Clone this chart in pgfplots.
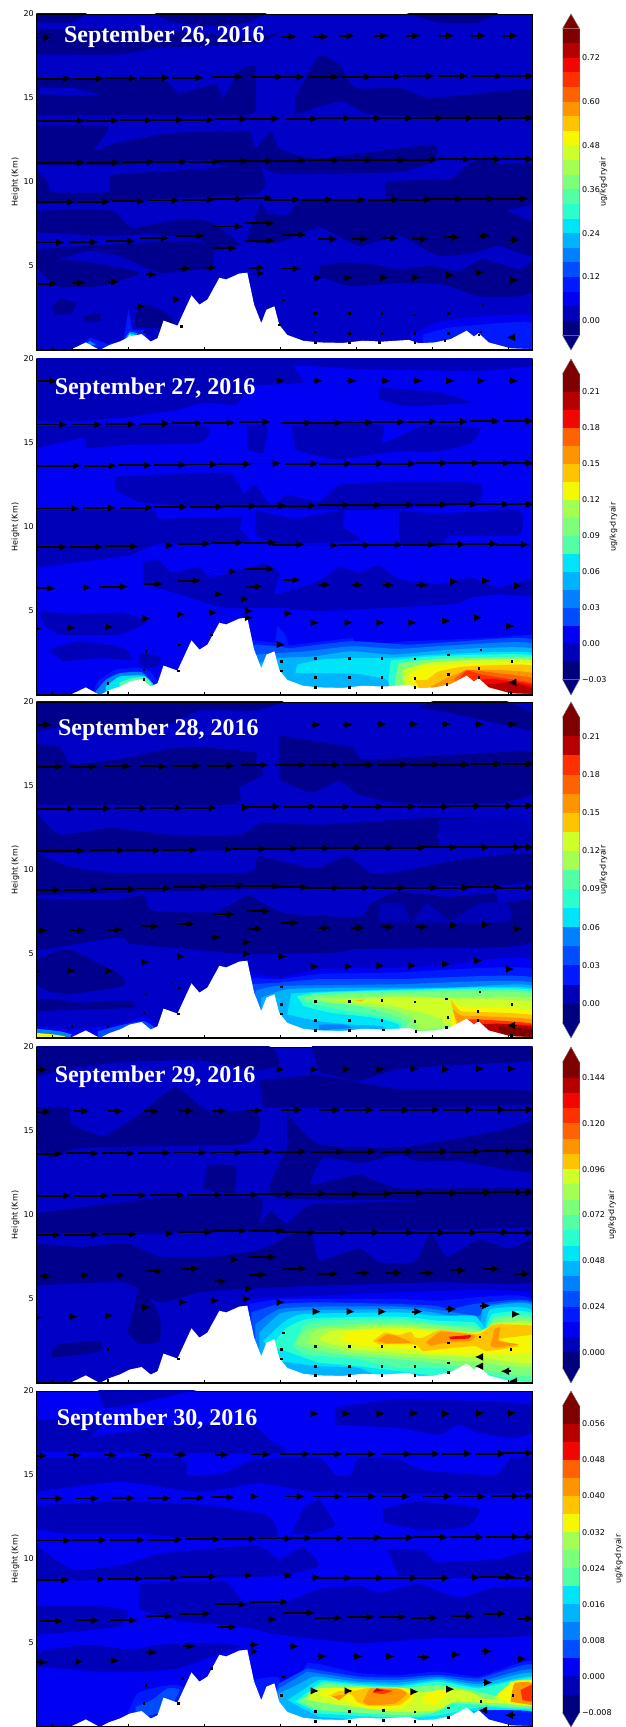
\documentclass[border=0pt]{standalone}
\usepackage{fontspec}
\setmainfont{DejaVu Sans}
\newfontfamily\ttl{Liberation Serif}
\usepackage{pgfplots}
\pgfplotsset{compat=1.18}
\usetikzlibrary{arrows.meta}
\definecolor{c0}{HTML}{00007F}\definecolor{c1}{HTML}{0000B9}\definecolor{c2}{HTML}{0000F3}
\definecolor{c3}{HTML}{0019FF}\definecolor{c4}{HTML}{004DFF}\definecolor{c5}{HTML}{0080FF}
\definecolor{c6}{HTML}{00B3FF}\definecolor{c7}{HTML}{00E4F7}\definecolor{c8}{HTML}{29FFCE}
\definecolor{c9}{HTML}{53FFA4}\definecolor{c10}{HTML}{7CFF79}\definecolor{c11}{HTML}{A4FF53}
\definecolor{c12}{HTML}{CEFF29}\definecolor{c13}{HTML}{F4F802}\definecolor{c14}{HTML}{FFC400}
\definecolor{c15}{HTML}{FF9400}\definecolor{c16}{HTML}{FF6200}\definecolor{c17}{HTML}{FF3000}
\definecolor{c18}{HTML}{F10700}\definecolor{c19}{HTML}{B60000}\definecolor{c20}{HTML}{7F0000}
\definecolor{da}{HTML}{00008C}\definecolor{db}{HTML}{0000C6}
% polygon, terrain, arrows
\newcommand{\F}[2]{\addplot[fill=#1,draw=none,forget plot,smooth,tension=.3] coordinates {#2} -- cycle;}
\newcommand{\G}[2]{\addplot[fill=#1,draw=none,forget plot] coordinates {#2} -- cycle;}
\newcommand{\Q}[2]{\addplot[black,line width=1.9pt,arrows={Latex[length=8.5pt,width=7.5pt]-},quiver={u=-#1,v=0},forget plot] coordinates {#2};}
\newcommand{\QL}[2]{\addplot[black,line width=1.6pt,arrows={-Latex[length=8.5pt,width=8pt]},quiver={u=-#1,v=0},forget plot] coordinates {#2};}
\newcommand{\LL}[1]{\addplot[black,line width=1.9pt,forget plot] coordinates {(91,#1)(140,#1)};}
\newcommand{\D}[1]{\addplot[only marks,mark=square*,mark size=0.8pt,black,forget plot] coordinates {#1};}
\newcommand{\T}{\G{white}{(91,0)(91,.03)(180,.05)(215,.45)(250,0)(275,.3)(300,.5)(325,.8)(355,.95)(378,.5)(395,.7)(410,1.75)(445,1.45)(480,3.25)(500,2.7)(520,3.0)(550,4.3)(567,4.2)(600,4.55)(620,4.6)(637,2.7)(655,1.6)(668,2.4)(688,2.6)(700,1.5)(720,.9)(760,.55)(800,.45)(860,.42)(910,.55)(960,.5)(1025,.6)(1050,.4)(1090,.45)(1130,.65)(1170,1.15)(1188,.8)(1200,1.0)(1225,.45)(1280,.1)(1335,.05)(1335,0)}}
\newcommand{\Title}[3]{\node[anchor=west,text=white,font=\ttl\fontsize{24}{26}\selectfont\bfseries,inner sep=0pt] at (axis cs:#1,#2) {#3};}
\pgfplotsset{
 panel/.style={scale only axis,width=496.2pt,height=336pt,anchor=south west,xmin=91,xmax=1335,ymin=0,ymax=20,
  ytick={5,10,15,20},xtick={130,180,322,512,702,893,1083,1275},xticklabels={},tick align=inside,xtick pos=bottom,ytick pos=left,
  major tick length=3pt,y tick style={draw=none},x tick style={black,line width=.6pt},axis on top,
  axis line style={black,line width=.6pt},
  /pgf/number format/assume math mode=true,
  tick label style={font=\fontsize{8}{9}\selectfont},yticklabel style={xshift=1pt},
  ylabel={Height (Km)},ylabel style={font=\fontsize{8}{9}\selectfont,at={(axis description cs:-0.027,0.5)}},
  after end axis/.code={\draw[black,line width=1.3pt] (rel axis cs:0,0) -- (rel axis cs:1,0);}},
 cbar/.style={scale only axis,width=17pt,height=336pt,anchor=south west,xmin=0,xmax=1,clip=false,scaled y ticks=false,
  xtick=\empty,ytick pos=right,yticklabel pos=right,y tick style={draw=none},axis line style={draw=none},
  /pgf/number format/assume math mode=true,
  tick label style={font=\fontsize{8}{9}\selectfont},yticklabel style={xshift=-1pt}}
}
\newcommand{\B}[3]{\addplot[fill=#3,draw=none,forget plot] coordinates {(0,#1)(1,#1)(1,#2)(0,#2)} -- cycle;}
\newcommand{\Tip}[3]{\addplot[fill=#3,draw=none,forget plot] coordinates {(0,#1)(.5,#2)(1,#1)} -- cycle;}
\newcommand{\Out}[4]{\addplot[draw=black!55,line width=.4pt,forget plot] coordinates {(0,#1)(.5,#2)(1,#1)(1,#3)(.5,#4)(0,#3)} -- cycle;}
\newcommand{\Unit}[1]{\node[rotate=90,font=\fontsize{8}{9}\selectfont] at (rel axis cs:#1,0.5) {ug/kg-dryair};}
\begin{document}
\begin{tikzpicture}
\useasboundingbox (0pt,0pt) rectangle (626pt,1727pt);
% ---------------------- Panel 1
\begin{axis}[panel,at={(36.3pt,1377pt)}]
\G{db}{(91,0)(1335,0)(1335,20)(91,20)}
\F{da}{(91,19.1)(300,19.1)(480,18.9)(640,18.6)(700,18.9)(640,18.2)(400,18.0)(300,17.6)(91,17.6)}
\F{da}{(380,20.2)(420,19.6)(520,19.3)(620,19.5)(680,20.2)}
\F{da}{(1000,20.2)(1100,19.5)(1200,19.5)(1260,20.2)}
\F{da}{(91,20.2)(220,20.2)(180,19.5)(91,19.5)}
\F{da}{(91,16.2)(400,16.1)(450,15.3)(540,15.8)(560,15.0)(600,16.6)(640,16.9)(640,14.8)(620,14.0)(250,14.0)(91,14.0)}
\F{db}{(100,15.6)(180,15.6)(250,15.2)(100,15.2)}
\F{da}{(740,15.0)(800,17.5)(850,17.0)(890,15.6)(1000,15.6)(1080,15.0)(1335,15.5)(1335,13.8)(950,14.0)(900,14.3)(860,14.8)(800,14.5)(740,14.0)}
\F{da}{(91,13.4)(270,13.3)(235,11.9)(290,12.3)(420,12.9)(560,13.0)(625,13)(640,12)(680,13)(700,12)(790,11.4)(1000,12)(1090,12.2)(1090,11.3)(1000,10.6)(700,10.5)(650,11)(600,10.7)(500,11.3)(300,11)(91,11)}
\F{da}{(91,10.7)(120,10.0)(130,9.4)(270,9.4)(280,10.4)(450,10.7)(600,10.9)(650,11)(640,9.3)(91,8.7)}
\F{da}{(650,8.9)(670,8.2)(720,8)(760,9)(960,8.9)(970,10)(1130,10.2)(1170,11)(1220,11.5)(1250,11.1)(1335,11.0)(1335,8.8)(1270,8.3)(1300,8)(1335,7.5)(1335,5.6)(1250,6.2)(1190,5.8)(1100,5.6)(1000,6.8)(900,6.2)(800,7.3)(700,6.4)(620,6.5)(650,8.5)}
\F{da}{(91,8.3)(280,8.3)(330,7.3)(460,7.8)(530,7.6)(600,6.3)(530,5.9)(500,6.6)(380,6.9)(270,6.8)(91,7.0)}
\F{da}{(91,6)(300,6.3)(480,6.5)(530,6)(530,4.9)(400,4.6)(300,5.6)(220,5.9)(120,5.2)(91,4.7)}
\F{da}{(91,5)(140,3.8)(250,3.8)(350,4.6)(200,5.3)(100,5.4)}
\F{da}{(800,5)(860,5.2)(930,5.1)(1000,4.8)(1080,5)(1150,4.7)(1210,5.4)(1300,4.8)(1335,5.2)(1335,3.5)(1300,3.2)(1200,3.2)(1110,3.9)(1000,4)(880,3.8)(800,4.4)}
\F{da}{(130,2.5)(150,3)(190,2.8)(180,2.2)(140,2.1)}
\F{da}{(210,2)(250,2.2)(250,1.7)(210,1.7)}
\F{da}{(340,2.2)(370,2.7)(430,2)(430,1.4)(380,1.3)(340,1.4)}
\F{c2}{(1030,.85)(1090,1.6)(1180,1.95)(1335,2.05)(1335,0)(1030,0)}
\F{c3}{(1060,.9)(1120,1.3)(1250,1.6)(1335,1.6)(1335,0)(1060,0)}
\G{c3}{(210,.35)(225,.75)(270,.35)(310,.6)(322,2.4)(332,1.2)(360,1.2)(375,.5)(210,0)}
\G{c5}{(215,.3)(240,.3)(225,.55)}
\G{c5}{(310,.55)(325,1.1)(345,1)(335,.6)}
\G{c7}{(315,.6)(325,1)(340,.9)(330,.6)}
\G{c13}{(318,.6)(325,.9)(332,.8)(326,.6)}
\T
\LL{16.15}\LL{13.65}\LL{11.15}\LL{8.8}
\Q{40}{(130,18.6)(745,18.65)(825,18.65)(890,18.7)(975,18.7)(1055,18.7)(1140,18.7)(1220,18.7)(1300,18.7)}
\Q{80}{(180,16.15)(262,16.15)(345,16.17)(428,16.2)(512,16.2)(610,16.25)(712,16.25)(765,16.25)(852,16.25)(935,16.25)(1010,16.27)(1090,16.3)(1175,16.3)(1262,16.3)(1340,16.3)}
\Q{84}{(215,13.65)(300,13.65)(385,13.67)(463,13.7)(540,13.7)(622,13.75)(702,13.77)(800,13.77)(882,13.8)(960,13.8)(1038,13.8)(1115,13.8)(1190,13.8)(1270,13.8)(1340,13.8)}
\Q{84}{(215,11.15)(302,11.15)(390,11.2)(472,11.2)(555,11.2)(625,11.25)(688,11.25)(770,11.27)(855,11.3)(938,11.3)(1020,11.3)(1100,11.33)(1182,11.35)(1260,11.35)(1340,11.35)}
\Q{84}{(190,8.8)(278,8.82)(365,8.85)(452,8.9)(540,8.95)(612,9.0)(685,9.05)(755,8.95)(838,8.95)(920,8.95)(1003,8.95)(1085,8.95)(1163,8.97)(1243,9)(1325,9)}
\Q{75}{(162,6.4)(248,6.43)(340,6.47)(425,6.65)(515,6.8)(610,7.35)(690,7.55)(690,6.5)}
\Q{60}{(770,6.85)(595,6.05)}\Q{50}{(848,6.6)(755,4.85)}\Q{42}{(925,6.6)(1000,6.65)(665,4.9)(665,4.55)(1075,6.6)(1155,6.7)}\Q{30}{(1230,6.8)(1305,6.55)(545,4.9)(480,4.85)(395,4.5)(300,4.05)}
\Q{50}{(145,3.95)}\Q{35}{(215,4.0)}\Q{25}{(810,4.3)}\Q{15}{(885,4.3)(975,4.3)(1055,4.3)(1140,4.45)(1300,4.15)}\Q{8}{(1215,4.6)(365,2.6)(455,3)}
\QL{20}{(1290,.75)}
\D{(710,3)(790,2.2)(875,2.2)(957,2.2)(1040,2.1)(1123,2.2)(1210,2.7)(790,1.1)(875,1.0)(957,1.0)(1040,1)(1123,1)(1205,1.1)(790,.45)(875,.45)(950,.45)(1040,.45)(1115,.6)(1200,.9)(1280,.8)(700,1.5)(455,1.4)(360,1.1)}
\Title{160}{18.65}{September 26, 2016}
\end{axis}
\begin{axis}[cbar,at={(562.5pt,1377pt)},ymin=-.08,ymax=.84,ytick={0,.12,.24,.36,.48,.6,.72},yticklabels={0.00,0.12,0.24,0.36,0.48,0.60,0.72}]
\Tip{-.04}{-.08}{c0}\Tip{.80}{.84}{c20}
\B{-.04}{0}{c0}\B{0}{.04}{c1}\B{.04}{.08}{c2}\B{.08}{.12}{c3}\B{.12}{.16}{c4}\B{.16}{.2}{c5}\B{.2}{.24}{c6}\B{.24}{.28}{c7}\B{.28}{.32}{c8}\B{.32}{.36}{c9}\B{.36}{.4}{c10}\B{.4}{.44}{c11}\B{.44}{.48}{c12}\B{.48}{.52}{c13}\B{.52}{.56}{c14}\B{.56}{.6}{c15}\B{.6}{.64}{c16}\B{.64}{.68}{c17}\B{.68}{.72}{c18}\B{.72}{.76}{c19}\B{.76}{.8}{c20}
\Out{-.04}{-.08}{.80}{.84}
\Unit{2.4}
\end{axis}
% ---------------------- Panel 2
\begin{axis}[panel,at={(36.3pt,1032pt)}]
\G{c2}{(91,0)(1335,0)(1335,20)(91,20)}
\F{c1}{(91,20.2)(91,16.4)(300,16.5)(450,17)(510,17.4)(590,17.3)(640,18.4)(760,18.6)(740,19.6)(900,19.4)(1200,19.3)(1335,19.6)(1335,20.2)}
\F{c1}{(950,18.3)(1100,18)(1180,17.4)(1020,17.2)(950,17.6)}
\F{c1}{(91,16)(510,16)(500,15)(320,14.9)(220,14.7)(210,15.3)(91,14.7)}
\F{c1}{(620,16)(670,16)(660,14.4)(620,14.6)}
\F{c1}{(730,16)(860,16.3)(960,16)(960,15)(1060,16)(1200,15.9)(1180,15)(1100,14.5)(1000,14.5)(930,14.3)(840,14)(740,14.6)}
\F{c1}{(290,13)(570,13.2)(610,12)(640,12.5)(680,11.3)(720,11.9)(800,11.5)(850,12.5)(1000,12.7)(1200,12.6)(1200,11.5)(1100,11.2)(900,11)(700,11.1)(500,11.2)(350,11.5)(290,12.2)}
\F{c1}{(91,11)(380,11)(400,10.5)(600,10.6)(600,9.9)(620,9.1)(400,9)(320,8.3)(91,7.6)}
\F{c1}{(640,11)(740,10.5)(860,11)(860,10)(900,9.2)(700,9)(640,9.5)}
\F{c1}{(1000,11)(1100,10.8)(1300,11)(1300,9.5)(1130,9.5)(1100,8.8)(1000,9.2)}
\F{c1}{(1030,10.2)(1060,9.2)(1100,9)(1000,9)}
\F{c1}{(360,7.9)(400,8)(430,7.3)(500,7.6)(530,7)(660,7.8)(700,7.2)(690,6)(800,6.8)(850,7.6)(900,7.3)(950,7.7)(1000,6.9)(1100,6.6)(1180,7)(1250,6.4)(1335,6.9)(1335,5.9)(1250,6)(1180,5.8)(1130,5.4)(800,5)(700,5.2)(560,5.2)(450,6)(360,6.6)}
\F{c1}{(100,5)(180,4.8)(300,4.9)(370,4.4)(300,3.6)(150,3.6)(110,4.2)}
\F{c1}{(120,2.7)(200,3.2)(310,2.8)(330,2.1)(250,2.2)(160,2)}
\F{c1}{(350,2.5)(400,2.3)(400,1.8)(370,1.6)(350,1.8)}
\F{c3}{(235,.2)(245,.8)(290,1.5)(350,1.6)(375,1.4)(395,.8)(395,0)(235,0)}
\F{c5}{(240,.2)(265,.9)(300,1.3)(355,1.35)(385,.6)(385,0)(240,0)}
\F{c7}{(265,.5)(300,1.1)(360,1.15)(385,.6)(385,0)(265,0)}
\F{c9}{(300,.75)(330,1.0)(365,1.05)(380,.5)(300,.5)}
\G{c3}{(625,3.3)(690,3.1)(695,4.1)(712,3.7)(725,2.95)(885,3.4)(892,2.9)(1020,3.2)(1130,3.3)(1230,3.4)(1335,3.6)(1335,0)(625,0)}
\F{c4}{(630,3.0)(700,2.9)(730,2.8)(880,3.2)(1020,3.0)(1130,3.15)(1335,3.3)(1335,0)(630,0)}
\F{c5}{(640,2.4)(700,2.5)(770,2.6)(880,2.9)(1000,2.75)(1130,2.95)(1335,3.05)(1335,0)(640,0)}
\F{c6}{(650,1.9)(700,2.2)(790,2.3)(880,2.6)(990,2.4)(1130,2.7)(1335,2.75)(1335,0)(650,0)}
\F{c7}{(745,1.8)(800,2.1)(880,2.2)(980,2.2)(1090,2.4)(1335,2.5)(1335,0)(1000,0)(970,.9)(900,1.25)(790,1.3)(740,1.3)}
\F{c8}{(980,2.05)(1090,2.3)(1335,2.35)(1335,0)(1000,0)(975,1)}
\F{c10}{(1000,1.9)(1090,2.15)(1200,2.2)(1335,2.2)(1335,0)(1015,0)(990,.8)}
\F{c12}{(1010,1.5)(1070,1.9)(1150,2.05)(1335,2.05)(1335,0)(1040,0)(1010,.8)}
\F{c13}{(1020,1.1)(1060,1.7)(1150,1.85)(1335,1.9)(1335,0)(1050,0)}
\F{c14}{(1040,.9)(1070,.9)(1100,1.4)(1170,1.7)(1335,1.75)(1335,0)(1060,0)}
\F{c15}{(1080,.5)(1120,1.0)(1170,1.45)(1230,1.5)(1335,1.3)(1335,0)(1090,0)}
\F{c16}{(1140,1)(1170,1.5)(1230,1.35)(1335,1)(1335,0)(1140,0)}
\F{c17}{(1150,.9)(1170,1.45)(1210,1.2)(1335,.7)(1335,0)(1150,0)}
\F{c18}{(1200,.9)(1240,.95)(1335,.6)(1335,0)(1200,0)}
\F{c19}{(1210,.6)(1280,.75)(1335,.4)(1335,0)(1210,0)}
\T
\LL{13.65}\LL{11.1}
\Q{50}{(145,18.7)}\Q{15}{(715,18.7)}\Q{25}{(810,18.7)(895,18.7)(980,18.7)(1060,18.7)(1300,18.7)}\Q{20}{(1140,18.7)(1218,18.7)}
\Q{80}{(170,16.1)(258,16.1)(342,16.12)(428,16.15)(510,16.17)(590,16.2)(680,16.25)(785,16.2)(860,16.2)(938,16.22)(1018,16.25)(1098,16.27)(1175,16.27)(1255,16.3)(1340,16.3)}
\Q{85}{(205,13.65)(295,13.65)(382,13.67)(470,13.7)(548,13.72)(632,13.75)(705,13.78)(800,13.77)(885,13.77)(965,13.77)(1045,13.77)(1125,13.8)(1205,13.8)(1282,13.8)(1340,13.8)}
\Q{85}{(200,11.1)(292,11.13)(385,11.15)(472,11.2)(562,11.2)(645,11.25)(720,11.27)(795,11.27)(880,11.3)(960,11.3)(1040,11.33)(1125,11.33)(1200,11.35)(1280,11.35)(1340,11.35)}
\Q{84}{(170,8.8)(260,8.82)(348,8.85)(437,8.9)(530,9.0)(612,9.07)(695,9.07)(765,8.95)(850,8.9)(932,8.92)(1012,8.95)(1095,8.95)(1170,8.97)(1250,9)(1328,8.95)}
\Q{75}{(140,6.35)(230,6.4)(322,6.45)(690,7.5)}\Q{60}{(505,6.8)(595,7.35)}\Q{50}{(410,6.6)}\Q{42}{(660,6.45)(755,6.85)}\Q{33}{(830,6.55)(912,6.55)(990,6.55)(1075,6.55)}
\Q{20}{(560,6.0)(465,4.8)(378,4.55)(735,4.85)(1230,6.8)(1310,6.5)}\Q{15}{(1150,6.75)(635,4.6)(545,4.9)(285,4.05)(190,4.0)(105,3.95)}\Q{10}{(635,5.0)(800,4.3)(885,4.3)(965,4.3)(715,3)(1210,4.6)}\Q{5}{(1045,4.3)(1130,4.4)(1290,4.1)(625,5.7)}
\QL{20}{(1293,.75)}
\D{(270,.7)(270,.15)(360,1.5)(360,.95)(365,2.6)(447,1.45)(450,3)(530,3.6)(705,2)(705,1.45)(790,2.2)(875,2.2)(957,2.2)(1040,2.15)(1123,2.4)(1205,2.7)(1283,2)(790,1.05)(875,1.05)(957,1.05)(1040,1)(1123,1.25)(1200,1.6)(790,.45)(875,.45)(957,.45)(1040,.45)(1120,.65)(1200,1.05)(1280,.15)}
\Title{137}{18.25}{September 27, 2016}
\end{axis}
\begin{axis}[cbar,at={(562.5pt,1032pt)},ymin=-.043,ymax=.2375,ytick={-.03,0,.03,.06,.09,.12,.15,.18,.21},yticklabels={−0.03,0.00,0.03,0.06,0.09,0.12,0.15,0.18,0.21}]
\Tip{-.03}{-.043}{c0}\Tip{.225}{.2375}{c20}
\B{-.03}{-.015}{c0}\B{-.015}{0}{c1}\B{0}{.015}{c2}\B{.015}{.03}{c4}\B{.03}{.045}{c5}\B{.045}{.06}{c6}\B{.06}{.075}{c7}\B{.075}{.09}{c9}\B{.09}{.105}{c10}\B{.105}{.12}{c11}\B{.12}{.135}{c13}\B{.135}{.15}{c14}\B{.15}{.165}{c15}\B{.165}{.18}{c16}\B{.18}{.195}{c18}\B{.195}{.21}{c19}\B{.21}{.225}{c20}
\Out{-.03}{-.043}{.225}{.2375}
\Unit{3}
\end{axis}
% ---------------------- Panel 3
\begin{axis}[panel,at={(36.3pt,689pt)}]
\G{db}{(91,0)(1335,0)(1335,20)(91,20)}
\F{da}{(91,20.2)(700,20.2)(640,19.5)(500,19.5)(400,18.4)(300,18.4)(150,18.5)(91,18.2)}
\F{da}{(91,17.5)(150,17.3)(180,16.3)(300,16.6)(420,17.2)(500,17.3)(640,17)(640,16.4)(660,15.7)(600,14.9)(580,13.9)(91,13.9)}
\F{da}{(700,18)(880,17.3)(910,16.6)(1100,16.8)(1335,17)(1335,14.6)(1250,14)(1000,14)(900,14.5)(850,15.3)(780,14.6)(700,15.4)}
\F{da}{(1050,19.7)(1200,19)(1335,18.3)(1335,19.3)(1250,20.2)(1100,20.2)}
\F{da}{(91,13.4)(150,12.1)(280,12.5)(430,12.1)(600,12.1)(660,12.8)(800,12.7)(1080,13.1)(1300,13.1)(1250,12.3)(1100,12.2)(1090,11.4)(800,11.3)(600,11.2)(400,11.1)(91,11)}
\F{c1}{(1100,13)(1300,13.1)(1335,12)(1335,11.6)(1150,11.5)(1100,12.2)}
\F{da}{(91,11)(170,10.2)(300,9.8)(600,9.8)(640,10.1)(650,10.8)(790,10.1)(870,10.8)(930,9.8)(1000,9.9)(1150,10.6)(1335,11)(1335,9.4)(1250,9.1)(700,8.9)(400,8.7)(91,8.5)}
\F{da}{(91,8.3)(280,8.2)(360,8.5)(380,7.6)(540,7.5)(620,8.5)(660,8)(720,7.4)(900,7.2)(930,8)(1000,8.7)(1120,8.4)(1240,8.6)(1250,8)(1335,8.2)(1335,5.8)(1250,5.4)(900,5.3)(850,5.1)(700,5)(600,5)(520,5.2)(330,5.6)(300,6)(91,5.2)}
\F{c1}{(950,8)(1010,8)(1030,6.9)(1070,8)(1130,7)(1200,8)(1270,8)(1270,6.9)(950,6.9)}
\F{da}{(91,4.7)(170,5.3)(250,4.4)(300,3.8)(310,3.1)(170,2.6)(120,2.8)(91,3.2)}
\F{da}{(91,2.3)(150,2.3)(190,2.1)(330,2.2)(330,1.8)(200,1.7)(91,1.6)}
\F{c2}{(91,.7)(160,.55)(240,.05)(91,0)}
\F{c5}{(91,.55)(150,.4)(190,.1)(91,0)}
\F{c13}{(91,.3)(130,.22)(165,.08)(91,0)}
\F{c2}{(180,.5)(300,.85)(360,1.3)(395,.8)(395,0)(180,0)}
\F{c4}{(245,.4)(300,.75)(360,1.0)(395,.5)(395,0)(245,0)}
\F{c2}{(625,3.9)(700,3.6)(800,4.1)(1000,4.2)(1130,4.35)(1210,4.65)(1335,4.6)(1335,0)(625,0)}
\F{c3}{(625,3.6)(700,3.5)(800,3.8)(1000,3.9)(1335,4.1)(1335,0)(625,0)}
\F{c4}{(630,3.2)(700,3.3)(800,3.5)(1000,3.5)(1335,3.6)(1335,0)(630,0)}
\F{c5}{(640,2.8)(700,3.1)(1000,3.2)(1335,3.3)(1335,0)(640,0)}
\F{c6}{(655,2.4)(720,2.9)(860,3.0)(1000,3.0)(1140,3.0)(1335,3.1)(1335,0)(655,0)}
\F{c5}{(800,.8)(860,.8)(880,.6)(800,.45)}
\F{c7}{(730,2.65)(800,2.75)(1000,2.9)(1335,2.95)(1335,0)(1000,0)(960,.7)(880,.8)(800,1.0)(720,1.4)}
\F{c8}{(745,2.5)(800,2.7)(1000,2.85)(1335,2.85)(1335,0)(1020,0)(1000,.8)(940,1.2)(830,1.5)(760,1.9)}
\F{c9}{(745,2.4)(800,2.65)(1000,2.8)(1335,2.75)(1335,0)(1030,0)(1005,.9)(950,1.3)(850,1.7)(770,2.1)}
\F{c10}{(760,2.4)(810,2.55)(1000,2.7)(1335,2.65)(1335,0)(1040,0)(1020,1.0)(980,1.4)(900,1.9)(790,2.2)}
\F{c11}{(800,2.35)(1000,2.5)(1130,2.4)(1335,2.4)(1335,.7)(1200,.9)(1120,.7)(1050,.5)(1040,1.1)(985,1.7)(880,2.0)(810,2.15)}
\F{c12}{(840,2.25)(1000,2.4)(1130,2.35)(1335,2.15)(1335,.8)(1120,.8)(1110,1.1)(1060,1.5)(985,1.9)}
\F{c13}{(1125,2.4)(1150,1.9)(1200,1.8)(1335,1.65)(1335,0)(1150,0)(1130,.8)(1140,1.6)}
\F{c14}{(1130,2.3)(1155,1.6)(1200,1.55)(1335,1.35)(1335,0)(1150,0)}
\F{c15}{(1135,1.7)(1160,1.3)(1205,1.3)(1335,1.1)(1335,0)(1160,0)}
\F{c17}{(1170,1.1)(1205,1.1)(1335,.85)(1335,0)(1180,0)}
\F{c18}{(1195,.85)(1335,.75)(1335,0)(1195,0)}
\F{c19}{(1205,.8)(1250,.85)(1335,.65)(1335,0)(1205,0)}
\F{c20}{(1250,.7)(1335,.5)(1335,0)(1250,.3)}
\G{c14}{(890,2.25)(915,2.3)(905,2.15)}
\T
\LL{13.65}\LL{11.15}
\Q{35}{(130,18.65)}\Q{24}{(805,18.65)(885,18.65)(970,18.67)(1050,18.67)(1132,18.67)(1215,18.67)(1298,18.67)}
\Q{70}{(160,16.15)(245,16.15)(330,16.17)(420,16.17)(505,16.2)(590,16.2)(675,16.25)}\Q{80}{(770,16.25)(855,16.25)(940,16.25)(1025,16.27)(1105,16.27)(1180,16.27)(1260,16.3)(1340,16.3)}
\Q{85}{(190,13.65)(280,13.65)(372,13.67)(460,13.7)(545,13.7)(628,13.72)(705,13.77)(795,13.77)(880,13.77)(965,13.77)(1045,13.77)(1130,13.77)(1210,13.8)(1290,13.82)(1340,13.82)}
\Q{90}{(215,11.15)(315,11.17)(405,11.17)(497,11.2)(585,11.22)(670,11.25)(750,11.27)(830,11.3)(910,11.32)(990,11.32)(1070,11.33)(1150,11.35)(1230,11.35)(1310,11.35)(1340,11.35)}
\Q{90}{(155,8.8)(250,8.82)(342,8.85)(430,8.9)(525,9.0)(615,9.07)(705,9.05)(775,8.97)(855,8.95)(930,8.95)(1020,8.95)(1100,8.95)(1180,8.95)(1260,8.97)(1340,8.95)}
\Q{25}{(120,6.4)(1150,6.7)(1230,6.75)(1310,6.5)(555,6.0)}\Q{40}{(215,6.4)(310,6.45)(660,6.5)}\Q{45}{(400,6.65)(490,6.8)(750,6.85)}\Q{55}{(590,7.35)}\Q{60}{(680,7.55)}\Q{35}{(830,6.55)(915,6.55)(990,6.6)(1075,6.6)}
\Q{15}{(630,5)(375,4.5)(285,4)(190,4)(105,3.95)}\Q{22}{(465,4.85)(720,4.85)}\Q{10}{(630,5.7)(800,4.25)(885,4.25)(965,4.3)(1130,4.4)(1210,4.6)}\Q{6}{(1045,4.3)(1290,4.1)}
\QL{25}{(1295,.75)}
\D{(705,3.05)(705,2)(705,1.45)(790,2.2)(875,2.2)(957,2.25)(1040,2.15)(1118,2.35)(1203,2.75)(1283,2)(790,1.05)(875,1.05)(957,1.05)(1040,1)(1122,1.25)(1198,1.6)(790,.45)(875,.45)(960,.5)(1042,.4)(1118,.65)(1198,1.05)(1282,.15)(180,.7)(270,.7)(360,1.5)(365,2.6)(447,1.45)(430,3.3)(450,3)}
\Title{145}{18.35}{September 28, 2016}
\end{axis}
\begin{axis}[cbar,at={(562.5pt,689pt)},ymin=-.027,ymax=.237,ytick={0,.03,.06,.09,.12,.15,.18,.21},yticklabels={0.00,0.03,0.06,0.09,0.12,0.15,0.18,0.21}]
\Tip{-.015}{-.027}{c0}\Tip{.225}{.237}{c20}
\B{-.015}{0}{c0}\B{0}{.015}{c1}\B{.015}{.03}{c3}\B{.03}{.045}{c4}\B{.045}{.06}{c5}\B{.06}{.075}{c7}\B{.075}{.09}{c8}\B{.09}{.105}{c9}\B{.105}{.12}{c11}\B{.12}{.135}{c12}\B{.135}{.15}{c14}\B{.15}{.165}{c15}\B{.165}{.18}{c16}\B{.18}{.195}{c17}\B{.195}{.21}{c19}\B{.21}{.225}{c20}
\Out{-.015}{-.027}{.225}{.237}
\Unit{2.4}
\end{axis}
% ---------------------- Panel 4
\begin{axis}[panel,at={(36.3pt,344pt)}]
\G{db}{(91,0)(1335,0)(1335,20)(91,20)}
\F{da}{(91,20.2)(650,20.2)(700,19)(640,18.6)(500,19.2)(300,19.1)(150,18.6)(91,18.2)}
\F{da}{(780,20.2)(1335,20.2)(1335,19.2)(1200,19)(1000,18.7)(900,18)(800,18.5)}
\F{da}{(91,16.4)(170,16.4)(180,15.4)(260,14.7)(350,16)(440,17.6)(520,16.2)(640,16.2)(650,15)(600,14.2)(200,14)(130,13.4)(91,14)}
\F{da}{(650,18)(800,18.3)(1000,17.5)(1335,17.4)(1335,16.6)(1000,16.4)(660,16.4)}
\F{da}{(720,16)(800,14.2)(1000,14)(1250,15)(1335,15.5)(1335,12.6)(1150,13.2)(1050,13.2)(1000,13.6)(900,13.1)(810,13.4)(780,11.8)(900,12.4)(1000,11.6)(1335,11.6)(1335,11)(700,11)(700,13)(720,14)}
\F{da}{(520,13)(590,12.9)(585,11.3)(510,11.6)}
\F{da}{(91,10.1)(400,11)(650,11)(650,9.5)(680,10.2)(720,9.5)(780,10.6)(1000,10.8)(1130,11)(1335,11)(1335,9.3)(600,9)(91,8.9)}
\F{da}{(91,8.3)(200,8.1)(320,8.3)(400,7.5)(530,7.5)(660,8)(730,8.8)(780,9)(800,7.3)(900,8)(950,7.2)(1040,7.2)(1080,8.9)(1120,7.5)(1200,8.5)(1280,8)(1335,8.5)(1335,6)(1100,6)(800,5.8)(600,5.6)(500,5.4)(400,4.8)(310,6)(91,5.8)}
\F{da}{(350,6)(400,4)(400,2.5)(350,2.3)(320,3)}
\F{da}{(130,2)(150,2.3)(250,2.5)(250,1.9)(130,1.5)}
\F{c2}{(620,5.0)(700,5.1)(800,5.2)(1000,5.4)(1335,5.3)(1335,0)(620,0)}
\F{c3}{(625,4.7)(700,5.0)(800,5)(1000,5)(1100,4.9)(1250,5.2)(1335,4.9)(1335,0)(625,0)}
\F{c4}{(630,4.2)(700,4.7)(800,4.8)(1000,4.7)(1090,4.6)(1130,4.4)(1190,4.7)(1335,4.8)(1335,0)(630,0)}
\F{c5}{(640,3.5)(700,4.4)(800,4.55)(1000,4.55)(1085,4.4)(1200,4.0)(1215,4.6)(1335,4.7)(1335,0)(640,0)}
\F{c6}{(650,3)(700,4.1)(750,4.3)(1000,4.4)(1085,4.2)(1200,3.6)(1215,4.5)(1335,4.6)(1335,0)(650,0)}
\F{c7}{(660,2.5)(710,3.6)(760,4.1)(1000,4.2)(1090,4.0)(1190,4.0)(1215,3.3)(1230,4.4)(1335,4.3)(1335,.0)(1000,0)(900,.9)(800,1.0)(700,1.3)}
\F{c8}{(680,2.2)(720,3.3)(780,3.85)(1000,3.95)(1100,3.7)(1190,3.6)(1215,3)(1235,4.1)(1335,4.1)(1335,0)(1000,.7)(900,1.0)(800,1.2)}
\F{c9}{(735,2.2)(760,3.4)(800,3.7)(1000,3.8)(1100,3.5)(1190,3.4)(1215,2.9)(1240,3.9)(1335,3.9)(1335,.2)(1210,.6)(1100,.9)(1000,.9)(900,1.4)(760,1.7)}
\F{c10}{(740,2.3)(780,3.3)(1000,3.6)(1190,3.2)(1215,2.8)(1240,3.75)(1335,3.8)(1335,.5)(1210,.8)(1050,1.3)(900,1.6)(790,1.9)}
\F{c11}{(770,2.4)(800,3.2)(1000,3.45)(1200,3)(1240,3.6)(1335,3.6)(1335,1)(1210,1.2)(1050,1.5)(880,1.8)}
\F{c12}{(800,2.55)(830,3.1)(1000,3.3)(1190,3)(1240,3.5)(1335,3.5)(1335,1.2)(1210,1.5)(1050,1.7)(880,2.0)}
\F{c13}{(850,2.6)(880,3.1)(1040,3.2)(1090,3)(1180,2.9)(1240,3.4)(1335,3.4)(1335,1.8)(1230,1.7)(1090,1.75)(1040,2.0)(900,2.2)}
\F{c14}{(935,2.5)(965,3.0)(1000,2.85)(1030,3.05)(1040,2.7)(1060,2.7)(1105,3.15)(1200,2.9)(1230,3.4)(1255,3.5)(1335,3.4)(1335,2.9)(1310,2.8)(1250,2.6)(1300,2.2)(1220,1.9)(1190,2.2)(1100,2.0)(1060,1.9)(1040,2.3)(950,2.3)}
\F{c15}{(945,2.5)(970,2.9)(1000,2.75)(1030,2.4)(970,2.35)}
\F{c15}{(1068,2.4)(1105,3.05)(1190,2.85)(1180,2.5)(1120,2.4)(1080,2.2)}
\F{c15}{(1230,2.2)(1240,3.2)(1255,3.3)(1250,2.5)(1300,2.3)(1240,2.1)}
\F{c18}{(1125,2.75)(1180,2.85)(1175,2.65)(1130,2.6)}
\T
\LL{11.15}
\Q{35}{(120,18.65)}\Q{15}{(715,18.67)(1050,18.7)(1295,18.7)}\Q{20}{(800,18.67)(1215,18.7)}\Q{5}{(880,18.67)(965,18.67)}\Q{12}{(1130,18.67)}
\Q{40}{(130,16.15)(225,16.17)(310,16.17)(400,16.17)(488,16.2)(570,16.2)(660,16.22)}\Q{55}{(760,16.25)(855,16.25)}\Q{80}{(940,16.25)(1030,16.25)(1105,16.27)(1190,16.27)(1270,16.27)(1340,16.27)}
\Q{85}{(160,13.65)(250,13.67)(340,13.67)(430,13.7)(520,13.72)(610,13.72)(685,13.77)(770,13.77)(865,13.77)(945,13.77)(1040,13.77)(1125,13.77)(1210,13.77)(1290,13.8)(1340,13.8)}
\Q{90}{(180,11.15)(275,11.15)(370,11.17)(465,11.17)(560,11.2)(650,11.2)(738,11.25)(820,11.27)(905,11.27)(985,11.27)(1065,11.3)(1150,11.3)(1235,11.33)(1315,11.35)(1340,11.35)}
\Q{90}{(155,8.8)(250,8.82)(345,8.85)(437,8.9)(535,8.98)(620,9.05)(715,9.05)(795,8.97)(875,8.95)(955,8.95)(1040,8.95)(1120,8.95)(1200,8.95)(1280,8.97)(1340,8.95)}
\Q{30}{(130,6.35)(570,6.05)}\Q{40}{(225,6.4)(315,6.4)(930,6.55)(1090,6.55)(1170,6.7)(1330,6.5)}\Q{45}{(410,6.65)(500,6.8)(670,6.45)(1010,6.55)(1255,6.8)}\Q{60}{(600,7.35)(770,6.8)}\Q{70}{(695,7.5)}\Q{55}{(850,6.5)}
\Q{10}{(635,5.6)(630,5)(105,3.9)(715,4.8)}\Q{15}{(550,4.9)(285,4)(805,4.25)(890,4.25)(970,4.25)}\Q{22}{(470,4.8)(378,4.5)(195,3.95)(1305,4.1)}\Q{26}{(1060,4.25)(1145,4.4)(1230,4.6)}
\QL{15}{(1205,1.55)(1205,1)(1290,.1)}\QL{25}{(1280,.7)}
\D{(710,3)(705,2)(705,1.45)(790,2.2)(875,2.2)(957,2.2)(1040,2.15)(1123,2.4)(1203,2.75)(1280,2)(790,1)(875,1)(957,1)(1040,1)(1123,1.2)(790,.45)(875,.45)(957,.45)(1040,.45)(1123,.65)(447,1.45)(270,2)(270,.15)}
\Title{137}{18.25}{September 29, 2016}
\end{axis}
\begin{axis}[cbar,at={(562.5pt,344pt)},ymin=-.016,ymax=.16,ytick={0,.024,.048,.072,.096,.12,.144},yticklabels={0.000,0.024,0.048,0.072,0.096,0.120,0.144}]
\Tip{-.008}{-.016}{c0}\Tip{.152}{.16}{c20}
\B{-.008}{0}{c0}\B{0}{.008}{c1}\B{.008}{.016}{c2}\B{.016}{.024}{c3}\B{.024}{.032}{c4}\B{.032}{.04}{c5}\B{.04}{.048}{c6}\B{.048}{.056}{c7}\B{.056}{.064}{c8}\B{.064}{.072}{c9}\B{.072}{.08}{c10}\B{.08}{.088}{c11}\B{.088}{.096}{c12}\B{.096}{.104}{c14}\B{.104}{.112}{c15}\B{.112}{.12}{c16}\B{.12}{.128}{c17}\B{.128}{.136}{c18}\B{.136}{.144}{c19}\B{.144}{.152}{c20}
\Out{-.008}{-.016}{.152}{.16}
\Unit{2.9}
\end{axis}
% ---------------------- Panel 5
\begin{axis}[panel,at={(36.3pt,0pt)}]
\G{c2}{(91,0)(1335,0)(1335,20)(91,20)}
\F{c1}{(91,20.2)(240,20.2)(260,19)(350,19.3)(520,20.2)}
\F{c1}{(840,19)(1000,19.5)(1335,19.2)(1335,17.6)(1290,17.2)(1200,17.5)(1150,18)(1100,17.4)(1000,17.8)(840,18)}
\F{c1}{(91,18.3)(270,18.3)(230,17.3)(400,17.9)(520,18)(630,18)(680,17)(700,16.3)(91,16.4)}
\F{c1}{(91,16)(450,16)(470,15)(560,15.1)(640,15.9)(800,16)(840,15)(880,15)(900,16)(1000,15.9)(1060,15.3)(1240,15)(1280,16)(1335,16)(1335,14.2)(1240,13.9)(800,14)(650,14.5)(500,14)(300,14.6)(91,14)}
\F{c1}{(91,13.2)(300,13.4)(520,13.2)(670,12.6)(690,11.3)(460,11.3)(350,11.5)(170,11.5)(91,11.8)}
\F{c1}{(960,13)(1050,13.4)(1200,13)(1170,11.9)(1060,11.7)(960,12.2)}
\F{c1}{(760,13)(800,13.5)(840,12)(780,11.5)(730,11.5)}
\F{c1}{(91,10.8)(180,9.4)(300,9.6)(400,10.3)(640,10.8)(700,10)(760,10.7)(800,9.6)(700,9)(400,8.8)(91,8.7)}
\F{c1}{(970,10.6)(1060,10.5)(1100,9.8)(1250,10)(1335,10.5)(1335,9)(1000,9)}
\F{c1}{(350,8.5)(560,8.7)(610,7.5)(700,7.3)(800,8.2)(900,8.4)(950,8)(1050,8.5)(1150,7.7)(1240,8.3)(1335,8.2)(1335,5.5)(1100,5.3)(900,5)(700,5.5)(600,6)(450,6.3)(350,7)}
\F{c1}{(91,7.2)(250,7.2)(320,6.9)(300,6)(200,5.7)(91,5.5)}
\F{c1}{(91,4.5)(220,4.9)(330,4.6)(400,4.9)(530,5)(600,4.8)(530,4.2)(450,3.5)(350,3.3)(250,3.3)(91,3.6)}
\F{c3}{(320,.8)(345,2.0)(400,2.4)(440,2.5)(465,2.2)(450,0)(320,0)}
\F{c4}{(340,1.2)(380,1.6)(420,2.3)(450,2.2)(420,1.0)(340,.5)}
\F{c3}{(635,2.8)(700,2.9)(700,0)(640,0)}
\F{c3}{(770,3.8)(800,3.75)(900,3.2)(1000,3.1)(1100,3.3)(1200,3.0)(1335,3.9)(1335,0)(700,0)(720,2.8)(750,3.0)}
\F{c4}{(770,3.5)(900,3.0)(1000,2.95)(1100,3.1)(1200,2.9)(1335,3.7)(1335,0)(700,0)(700,2.6)}
\F{c5}{(770,3.3)(900,2.85)(1000,2.8)(1100,3)(1200,2.7)(1335,3.4)(1335,0)(700,0)(700,2.3)}
\F{c6}{(700,2.0)(745,2.5)(790,3)(900,2.7)(1000,2.65)(1100,2.9)(1200,2.55)(1335,3.2)(1335,0)(700,0)}
\F{c7}{(720,1.6)(760,2.2)(800,2.8)(900,2.6)(1000,2.5)(1100,2.8)(1200,2.4)(1335,3.0)(1335,.9)(1200,1.0)(1100,.5)(1000,.3)(800,.6)}
\F{c8}{(740,1.5)(770,2.05)(810,2.7)(900,2.5)(1000,2.4)(1100,2.7)(1200,2.3)(1335,2.9)(1335,1.1)(1210,1.2)(1100,.7)(1000,.55)(800,.8)}
\F{c10}{(750,1.5)(790,2.3)(820,2.55)(1000,2.3)(1100,2.5)(1200,2.1)(1260,1.8)(1335,2.8)(1335,1.2)(1220,1.3)(1130,1.4)(1080,.8)(1000,.7)(800,1.0)}
\F{c12}{(770,1.6)(800,2.3)(1010,2.3)(1060,2.05)(1130,2.3)(1180,2.1)(1210,1.7)(1260,1.7)(1280,2.7)(1335,2.75)(1335,1.3)(1260,1.4)(1140,1.5)(1100,1.0)(1000,.9)(850,1.3)}
\F{c13}{(800,1.9)(830,2.3)(1000,2.35)(1040,2.05)(1030,1.5)(1000,1.1)(920,1.1)(870,1.5)}
\F{c13}{(1060,1.9)(1100,2.2)(1125,2)(1090,1.3)(1060,1.5)}
\F{c13}{(1240,1.8)(1285,2.65)(1335,2.7)(1335,1.3)(1270,1.5)}
\F{c14}{(825,1.85)(880,1.95)(895,1.5)(925,1.25)(1000,1.3)(1030,1.85)(1000,2.3)(930,2.35)(880,2.1)(850,2.15)}
\G{c15}{(830,1.85)(870,1.95)(850,1.6)}
\F{c15}{(910,1.5)(925,1.3)(990,1.4)(1020,2.0)(1000,2.25)(930,2.3)(920,2.0)}
\F{c15}{(1280,1.5)(1290,2.6)(1335,2.6)(1335,1.3)}
\G{c17}{(935,2.05)(945,2.3)(985,2.15)(960,1.95)}
\G{c17}{(1310,1.6)(1305,2.2)(1335,2.55)(1335,1.5)}
\G{c19}{(935,2.1)(945,2.3)(960,2.15)}
\F{c3}{(1200,1.0)(1280,1.0)(1335,.9)(1335,0)(1200,0)}
\T
\LL{11.1}\LL{8.75}
\Q{5}{(95,18.6)(800,18.65)(880,18.65)(965,18.65)(1050,18.67)(1130,18.65)(1215,18.67)(1295,18.67)}
\Q{35}{(120,16.15)(205,16.17)(295,16.17)(385,16.17)(470,16.2)(575,16.2)}\Q{50}{(680,16.22)}\Q{78}{(780,16.25)(860,16.25)(945,16.25)(1035,16.25)(1105,16.27)(1185,16.27)(1270,16.27)(1340,16.3)}
\Q{60}{(160,13.6)(250,13.6)(340,13.62)(430,13.62)(515,13.65)(590,13.67)}\Q{15}{(650,13.72)}\Q{50}{(765,13.72)}\Q{75}{(860,13.72)(945,13.72)(1030,13.72)(1135,13.72)(1220,13.72)(1305,13.75)(1340,13.75)}
\Q{90}{(180,11.1)(270,11.13)(365,11.13)(460,11.15)(555,11.17)(645,11.2)(735,11.22)(785,11.25)(865,11.25)(960,11.27)(1040,11.27)(1125,11.3)(1215,11.3)(1305,11.33)(1340,11.33)}
\Q{90}{(175,8.75)(265,8.78)(360,8.82)(450,8.87)(545,8.95)(635,9.02)(735,9.02)(805,8.9)(885,8.87)(965,8.87)(1050,8.87)(1130,8.87)(1205,8.9)(1290,8.95)(1340,8.85)}
\Q{60}{(160,6.3)(250,6.35)(1190,6.6)(1270,6.75)}\Q{70}{(345,6.35)(435,6.6)(695,6.4)(860,6.5)(940,6.55)(1020,6.55)(1100,6.5)}\Q{80}{(530,6.75)(620,7.3)(790,6.8)}\Q{100}{(725,7.45)}\Q{45}{(1340,6.45)}
\Q{50}{(595,5.95)}\Q{25}{(650,4.9)(300,3.95)(750,4.8)(820,4.2)(990,4.2)(910,4.2)(1155,4.3)(1320,4.05)(1235,2.65)}\Q{20}{(650,4.5)}\Q{30}{(490,4.8)(395,4.45)(210,3.9)(120,3.85)(1235,4.5)}\Q{35}{(1080,4.15)}\Q{15}{(1140,2.25)}\Q{6}{(800,2.15)(885,2.15)(1050,2.1)}
\QL{25}{(1290,.7)}\QL{10}{(1210,1)}
\D{(710,3)(705,1.9)(790,.95)(875,.95)(960,1)(1040,.9)(1123,1.15)(1205,1.55)(790,.35)(875,.35)(960,.4)(1040,.35)(1123,.6)(1285,1.9)(365,2.5)(360,1.4)(447,1.4)(530,3.5)(457,2.9)}
\Title{142}{18.3}{September 30, 2016}
\end{axis}
\begin{axis}[cbar,at={(562.5pt,0pt)},ymin=-.0112,ymax=.0633,ytick={-.008,0,.008,.016,.024,.032,.04,.048,.056},yticklabels={−0.008,0.000,0.008,0.016,0.024,0.032,0.040,0.048,0.056}]
\Tip{-.008}{-.0112}{c0}\Tip{.06}{.0633}{c20}
\B{-.008}{-.004}{c0}\B{-.004}{0}{c1}\B{0}{.004}{c2}\B{.004}{.008}{c4}\B{.008}{.012}{c5}\B{.012}{.016}{c6}\B{.016}{.02}{c7}\B{.02}{.024}{c9}\B{.024}{.028}{c10}\B{.028}{.032}{c11}\B{.032}{.036}{c13}\B{.036}{.04}{c14}\B{.04}{.044}{c15}\B{.044}{.048}{c16}\B{.048}{.052}{c18}\B{.052}{.056}{c19}\B{.056}{.06}{c20}
\Out{-.008}{-.0112}{.06}{.0633}
\Unit{3.3}
\end{axis}
\end{tikzpicture}
\end{document}
